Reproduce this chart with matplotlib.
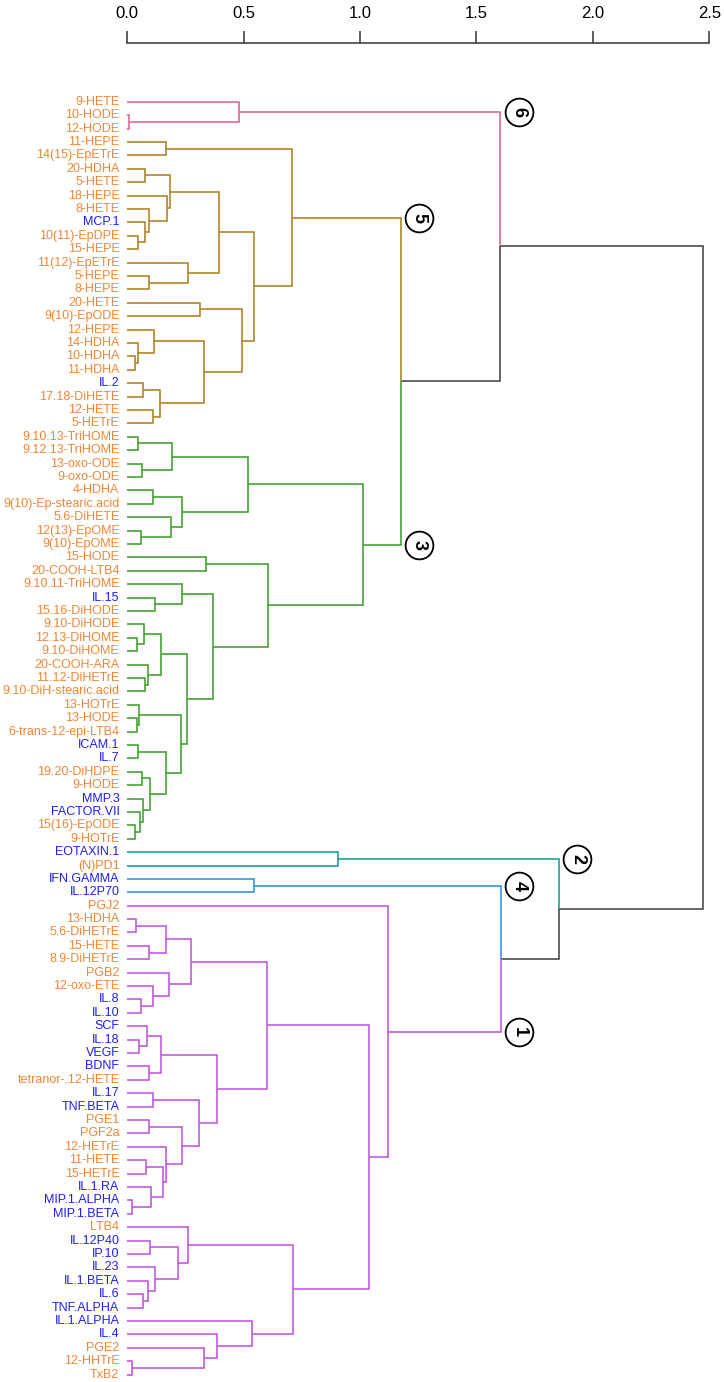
import matplotlib.pyplot as plt
from matplotlib.transforms import offset_copy

plt.rcParams['font.family'] = ['Liberation Sans', 'DejaVu Sans']

# Each node is (merge height, left, right); leaves are the variable names
cluster6 = (0.480, "9-HETE", (0.006, "10-HODE", "12-HODE"))

cluster5 = (0.709,
            (0.168, "11-HEPE", "14(15)-EpETrE"),
            (0.543,
             (0.394,
              (0.185,
               (0.075, "20-HDHA", "5-HETE"),
               (0.169, "18-HEPE",
                (0.093, "8-HETE", (0.075, "MCP.1", (0.047, "10(11)-EpDPE", "15-HEPE"))))),
              (0.259, "11(12)-EpETrE", (0.093, "5-HEPE", "8-HEPE"))),
             (0.494,
              (0.314, "20-HETE", "9(10)-EpODE"),
              (0.331,
               (0.113, "12-HEPE", (0.045, "14-HDHA", (0.032, "10-HDHA", "11-HDHA"))),
               (0.139, (0.066, "IL.2", "17.18-DiHETE"), (0.109, "12-HETE", "5-HETrE"))))))

cluster3 = (1.011,
            (0.517,
             (0.192, (0.045, "9.10.13-TriHOME", "9.12.13-TriHOME"),
              (0.062, "13-oxo-ODE", "9-oxo-ODE")),
             (0.236, (0.109, "4-HDHA", "9(10)-Ep-stearic.acid"),
              (0.186, "5.6-DiHETE", (0.059, "12(13)-EpOME", "9(10)-EpOME")))),
            (0.606,
             (0.337, "15-HODE", "20-COOH-LTB4"),
             (0.367,
              (0.233, "9.10.11-TriHOME", (0.119, "IL.15", "15.16-DiHODE")),
              (0.255,
               (0.146,
                (0.072, "9.10-DiHODE", (0.040, "12.13-DiHOME", "9.10-DiHOME")),
                (0.088, "20-COOH-ARA", (0.077, "11.12-DiHETrE", "9.10-DiH-stearic.acid"))),
               (0.231,
                (0.050, "13-HOTrE", (0.040, "13-HODE", "6-trans-12-epi-LTB4")),
                (0.166,
                 (0.045, "ICAM.1", "IL.7"),
                 (0.097,
                  (0.063, "19.20-DiHDPE", "9-HODE"),
                  (0.069, "MMP.3",
                   (0.056, "FACTOR.VII", (0.032, "15(16)-EpODE", "9-HOTrE"))))))))))

cluster2 = (0.904, "EOTAXIN.1", "(N)PD1")
cluster4 = (0.546, "IFN.GAMMA", "IL.12P70")

cluster1 = (1.118,
            "PGJ2",
            (1.040,
             (0.599,
              (0.274,
               (0.165, (0.036, "13-HDHA", "5.6-DiHETrE"), (0.092, "15-HETE", "8.9-DiHETrE")),
               (0.178, "PGB2", (0.112, "12-oxo-ETE", (0.059, "IL.8", "IL.10")))),
              (0.384,
               (0.146, (0.085, "SCF", (0.049, "IL.18", "VEGF")),
                (0.095, "BDNF", "tetranor-.12-HETE")),
               (0.309,
                (0.112, "IL.17", "TNF.BETA"),
                (0.233,
                 (0.093, "PGE1", "PGF2a"),
                 (0.166,
                  "12-HETrE",
                  (0.153, (0.079, "11-HETE", "15-HETrE"),
                   (0.100, "IL.1.RA", (0.022, "MIP.1.ALPHA", "MIP.1.BETA")))))))),
             (0.713,
              (0.262, "LTB4",
               (0.219, (0.099, "IL.12P40", "IP.10"),
                (0.118, "IL.23", (0.089, "IL.1.BETA", (0.069, "IL.6", "TNF.ALPHA"))))),
              (0.537, "IL.1.ALPHA",
               (0.387, "IL.4", (0.330, "PGE2", (0.020, "12-HHTrE", "TxB2")))))))

upper = (1.603, cluster6, (1.176, cluster5, cluster3))
lower = (1.856, cluster2, (1.607, cluster4, cluster1))
tree = (2.472, upper, lower)

clusters = {1: cluster1, 2: cluster2, 3: cluster3, 4: cluster4, 5: cluster5, 6: cluster6}
cluster_colors = {1: "#C055D8", 2: "#15A08E", 3: "#3F9E2C", 4: "#2A93DC", 5: "#AC8022", 6: "#DF6688"}

proteins = ["MCP.1", "IL.2", "IL.15", "ICAM.1", "IL.7", "MMP.3", "FACTOR.VII",
            "EOTAXIN.1", "IFN.GAMMA", "IL.12P70", "IL.8", "IL.10", "SCF", "IL.18",
            "VEGF", "BDNF", "IL.17", "TNF.BETA", "IL.1.RA", "MIP.1.ALPHA",
            "MIP.1.BETA", "IL.12P40", "IP.10", "IL.23", "IL.1.BETA", "IL.6",
            "TNF.ALPHA", "IL.1.ALPHA", "IL.4"]

tick_values = [0.0, 0.5, 1.0, 1.5, 2.0, 2.5]


def leaf_names(node):
    if isinstance(node, str):
        return [node]
    return leaf_names(node[1]) + leaf_names(node[2])


order = leaf_names(tree)
pos = {name: i for i, name in enumerate(order)}
color_of = {id(v): cluster_colors[k] for k, v in clusters.items()}
number_of = {id(v): k for k, v in clusters.items()}


def node_y(node):
    if isinstance(node, str):
        return pos[node]
    return (node_y(node[1]) + node_y(node[2])) / 2


def node_h(node):
    return 0.0 if isinstance(node, str) else node[0]


fig = plt.figure(figsize=(7.24, 13.82), dpi=100)
ax = fig.add_axes([0, 0, 1, 1])

anchors = {}


def draw(node, color=None):
    h, y = node[0], node_y(node)
    for child in node[1:]:
        c = color or color_of.get(id(child))
        ch, cy = node_h(child), node_y(child)
        ax.plot([h, h, ch], [y, cy, cy], color=c or '#444444', lw=1.15,
                solid_joinstyle='miter', solid_capstyle='butt')
        if color is None and id(child) in number_of:
            anchors[number_of[id(child)]] = (h, cy)
        if not isinstance(child, str):
            draw(child, c)


draw(tree)

# leaf labels
for name in order:
    ax.text(-0.034, pos[name], name, ha='right', va='center', fontsize=9,
            color='#1F1FF5' if name in proteins else '#EF8637')

# circled cluster numbers
shifted = offset_copy(ax.transData, fig, x=13, y=0, units='points')
for k, (h, y) in anchors.items():
    ax.plot(h, y, marker='o', ms=20, mfc='white', mec='black', mew=1.3,
            transform=shifted, zorder=5)
    ax.text(h, y, str(k), transform=shifted, rotation=-90, ha='center',
            va='center', fontsize=13, fontweight='bold', zorder=6)

ax.set_xlim(-0.5468, 2.5632)
ax.set_ylim(95.545, -7.590)

# scale bar on top
for side in ['left', 'right', 'bottom']:
    ax.spines[side].set_visible(False)
ax.spines['top'].set_position(('axes', 1 - 43.3 / 1382))
ax.spines['top'].set_bounds(0, 2.5)
ax.spines['top'].set_color('#333333')
ax.spines['top'].set_linewidth(1.1)
ax.xaxis.set_ticks_position('top')
ax.set_xticks(tick_values)
ax.set_xticklabels([f'{v:.1f}' for v in tick_values])
ax.tick_params(axis='x', direction='out', length=8.4, width=1.1, pad=8,
               labelsize=12, color='#333333')
ax.set_yticks([])

fig.savefig('out.png', dpi=100)
